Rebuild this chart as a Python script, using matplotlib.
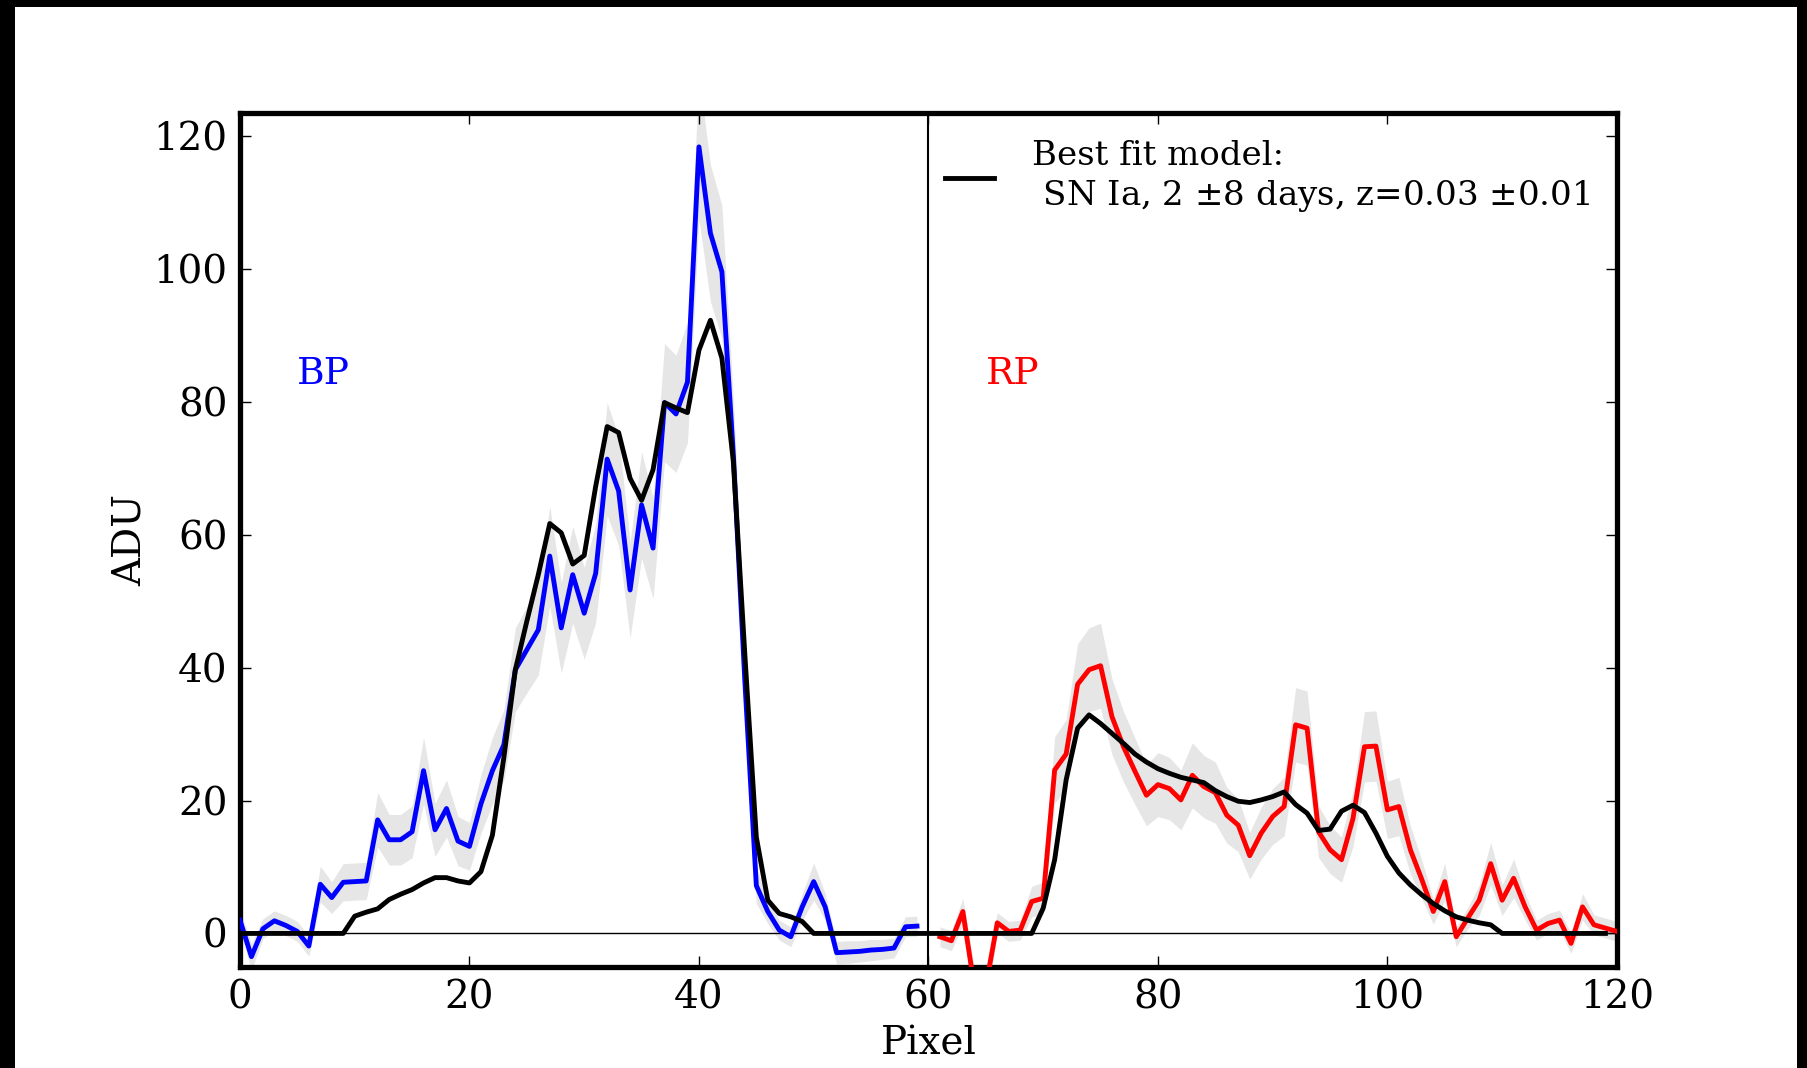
import numpy as np
import matplotlib
matplotlib.use("Agg")
from matplotlib import pyplot as plt
from matplotlib.patches import Rectangle

# BP spectrum, pixels 0..59
bp_pix = list(range(0, 60))
bp_flux = [2.0, -3.5, 0.7, 1.9, 1.2, 0.3, -1.9, 7.4, 5.4, 7.7,
           7.8, 7.9, 17.1, 14.1, 14.1, 15.3, 24.5, 15.6, 18.8, 13.9,
           13.1, 19.5, 24.5, 28.4, 39.7, 42.7, 45.7, 56.8, 46.0, 54.0,
           48.2, 54.2, 71.4, 66.6, 51.7, 64.5, 58.0, 79.9, 78.2, 83.0,
           118.4, 105.4, 99.6, 72.0, 38.0, 7.2, 3.3, 0.5, -0.5, 4.0,
           7.8, 4.0, -2.9, -2.8, -2.7, -2.5, -2.4, -2.2, 1.0, 1.1]
bp_err = [1.5, 2.0, 1.5, 1.5, 1.5, 1.5, 1.5, 2.7, 2.4, 2.8,
          2.8, 2.8, 4.1, 3.8, 3.8, 3.9, 5.0, 4.0, 4.3, 3.7,
          3.6, 4.4, 5.0, 5.3, 6.3, 6.5, 6.8, 7.5, 6.8, 7.3,
          6.9, 7.4, 8.5, 8.2, 7.2, 8.0, 7.6, 8.9, 8.8, 9.1,
          10.9, 10.3, 10.0, 8.5, 6.2, 2.7, 1.8, 1.5, 1.5, 2.0,
          2.8, 2.0, 1.7, 1.7, 1.6, 1.6, 1.5, 1.5, 1.5, 1.5]

# RP spectrum, pixels 61..120
rp_pix = list(range(61, 121))
rp_flux = [-0.5, -1.1, 3.3, -8.0, -8.0, 1.6, 0.3, 0.5, 4.8, 5.3,
           24.6, 27.0, 37.5, 39.7, 40.3, 32.6, 28.1, 24.4, 20.8, 22.4,
           21.8, 20.1, 23.8, 22.1, 21.2, 17.8, 16.3, 11.7, 15.1, 17.6,
           19.1, 31.4, 30.9, 15.3, 12.6, 11.1, 17.3, 28.1, 28.2, 18.6,
           19.1, 12.6, 8.1, 3.3, 7.8, -0.5, 2.3, 5.0, 10.5, 5.0,
           8.3, 4.0, 0.5, 1.5, 2.0, -1.5, 4.0, 1.3, 0.8, 0.3]
rp_err = [1.5, 1.5, 2.0, 2.8, 2.8, 1.5, 1.5, 1.5, 2.3, 2.4,
          5.0, 5.2, 6.1, 6.3, 6.4, 5.7, 5.3, 5.0, 4.6, 4.8,
          4.7, 4.5, 4.9, 4.7, 4.6, 4.2, 4.0, 3.5, 3.9, 4.2,
          4.4, 5.6, 5.6, 3.9, 3.6, 3.4, 4.2, 5.3, 5.3, 4.3,
          4.4, 3.6, 2.9, 1.9, 2.8, 1.5, 1.6, 2.3, 3.2, 2.3,
          2.9, 2.0, 1.5, 1.5, 1.5, 1.5, 2.0, 1.5, 1.5, 1.5]

# best fit model, pixels 0..119
model_pix = list(range(0, 120))
model_flux = [0, 0, 0, 0, 0, 0, 0, 0, 0, 0,
              2.6, 3.2, 3.7, 5.1, 5.9, 6.6, 7.6, 8.4, 8.4, 7.9,
              7.6, 9.3, 14.8, 26.5, 39.7, 47.0, 54.0, 61.7, 60.3, 55.6,
              56.9, 67.3, 76.3, 75.4, 68.5, 65.2, 69.8, 79.9, 79.1, 78.4,
              87.8, 92.3, 86.6, 71.0, 42.0, 14.5, 5.0, 3.0, 2.5, 1.8,
              0, 0, 0, 0, 0, 0, 0, 0, 0, 0,
              0, 0, 0, 0, 0, 0, 0, 0, 0, 0,
              3.8, 11.1, 23.1, 30.9, 32.9, 31.6, 30.1, 28.6, 27.0, 25.8,
              24.8, 24.1, 23.5, 23.1, 22.7, 21.5, 20.6, 19.9, 19.7, 20.1,
              20.6, 21.3, 19.4, 18.1, 15.5, 15.7, 18.4, 19.3, 18.2, 15.1,
              11.6, 9.1, 7.3, 5.8, 4.5, 3.4, 2.5, 2.0, 1.6, 1.3,
              0, 0, 0, 0, 0, 0, 0, 0, 0, 0]

model_label = "Best fit model:\n SN Ia, 2 $\\pm$8 days, z=0.03 $\\pm$0.01"

plt.rcParams['font.family'] = 'serif'
plt.rcParams['font.serif'] = ['DejaVu Serif']
plt.rcParams['mathtext.fontset'] = 'dejavuserif'

fig = plt.figure(figsize=(18.07, 10.68), dpi=100, facecolor='black')
# white page inside the black border
fig.patches.append(Rectangle((15 / 1807., 0), 1782 / 1807., 1061 / 1068.,
                             transform=fig.transFigure, figure=fig,
                             facecolor='white', edgecolor='none', zorder=-10))

ax = fig.add_axes([0.1328, 0.0949, 0.7620, 0.7993])

bp_f = np.array(bp_flux)
rp_f = np.array(rp_flux)
ax.fill_between(bp_pix, bp_f - np.array(bp_err), bp_f + np.array(bp_err),
                color='0.9', lw=0, zorder=1)
ax.fill_between(rp_pix, rp_f - np.array(rp_err), rp_f + np.array(rp_err),
                color='0.9', lw=0, zorder=1)

ax.axhline(0, color='k', lw=1, zorder=2)
ax.axvline(60, color='k', lw=1.5, zorder=2)

ax.plot(bp_pix, bp_flux, color='b', lw=3.5, zorder=3)
ax.plot(rp_pix, rp_flux, color='r', lw=3.5, zorder=3)
ax.plot(model_pix, model_flux, color='k', lw=3.5, zorder=4, label=model_label)

ax.text(5, 82.7, 'BP', color='b', fontsize=27)
ax.text(65, 82.7, 'RP', color='r', fontsize=27)

ax.set_xlim(0, 120)
ax.set_ylim(-5, 123.5)
ax.set_xticks(range(0, 121, 20))
ax.set_yticks(range(0, 121, 20))
ax.tick_params(direction='in', top=True, right=True, length=8, width=1,
               labelsize=28, pad=9)
for s in ax.spines.values():
    s.set_linewidth(3.8)

ax.set_xlabel('Pixel', fontsize=28, labelpad=7)
ax.set_ylabel('ADU', fontsize=28, labelpad=3)

ax.legend(loc='upper right', frameon=False, fontsize=24.5, handlelength=1.45,
          handletextpad=1.1, borderaxespad=0.4)

fig.savefig('out.png', dpi=100, facecolor=fig.get_facecolor())
